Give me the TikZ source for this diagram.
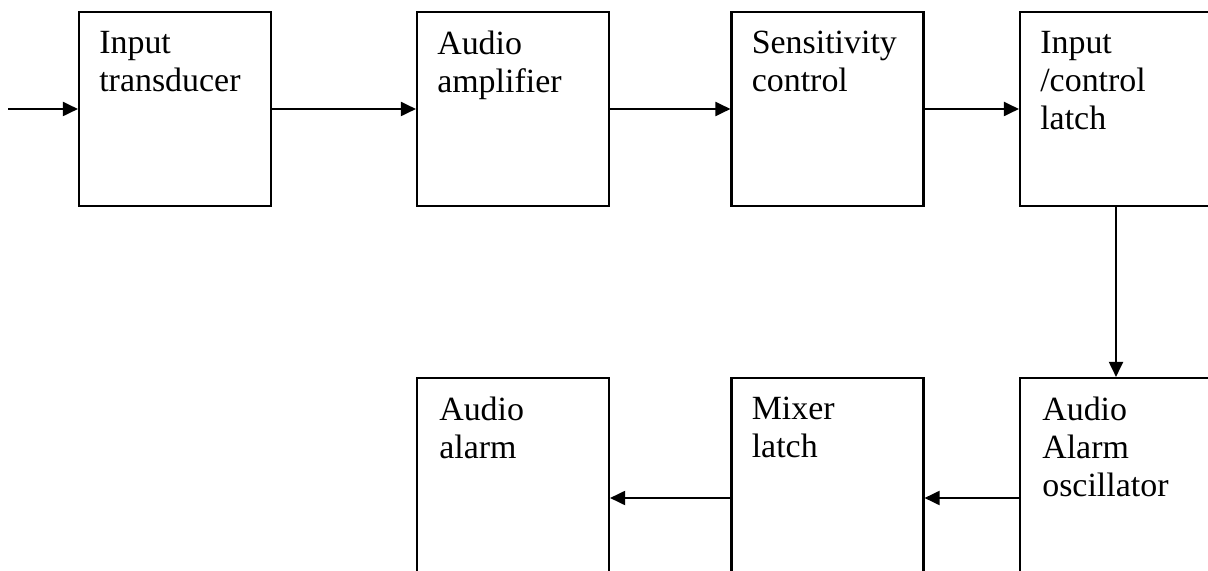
\documentclass[tikz,border=0pt]{standalone}
\usepackage{fontspec}
\setmainfont{Liberation Serif}
\usetikzlibrary{arrows.meta, positioning}

\tikzset{
  blk/.style={draw, line width=1.2pt, minimum width=3.84cm, minimum height=3.88cm, inner sep=0pt},
  blktxt/.style={align=left, inner sep=0pt, font=\fontsize{19.3}{21.6}\selectfont},
  arr/.style={line width=1.1pt, -{Triangle[length=0.30cm, width=0.28cm]}}
}

\begin{document}
\begin{tikzpicture}[x=1cm, y=1cm]
\useasboundingbox (0,0) rectangle (24.16,11.4);
\clip (0,0) rectangle (24.16,11.4);
% top row
\node[blk] (trans) at (3.50,9.22) {};
\node[blk] (amp) at (10.26,9.22) {};
\node[blk] (sens) at (16.55,9.22) {};
\node[blk] (latch) at (22.32,9.22) {};
% bottom row
\node[blk] (alarm) at (10.26,1.90) {};
\node[blk] (mixer) at (16.55,1.90) {};
\node[blk] (osc) at (22.32,1.90) {};
% labels
\node[blktxt, below right=0.40cm and 0.42cm of trans.north west] (trans-t) {Input\\transducer};
\node[blktxt, below right=0.40cm and 0.42cm of amp.north west] (amp-t) {Audio\\amplifier};
\node[blktxt, below right=0.40cm and 0.42cm of sens.north west] (sens-t) {Sensitivity\\control};
\node[blktxt, below right=0.40cm and 0.42cm of latch.north west] (latch-t) {Input\\/control\\latch};
\node[blktxt, below right=0.40cm and 0.46cm of alarm.north west] (alarm-t) {Audio\\alarm};
\node[blktxt, below right=0.40cm and 0.42cm of mixer.north west] (mixer-t) {Mixer\\latch};
\node[blktxt, below right=0.40cm and 0.46cm of osc.north west] (osc-t) {Audio\\Alarm\\oscillator};
% connectors
\coordinate (in) at (0.16,9.22);
\draw[arr] (in) -- (trans.west);
\draw[arr] (trans.east) -- (amp.west);
\draw[arr] (amp.east) -- (sens.west);
\draw[arr] (sens.east) -- (latch.west);
\draw[arr] (latch.south) -- (osc.north);
\draw[arr] ([yshift=-0.46cm]osc.west) -- ([yshift=-0.46cm]mixer.east);
\draw[arr] ([yshift=-0.46cm]mixer.west) -- ([yshift=-0.46cm]alarm.east);
\end{tikzpicture}
\end{document}
